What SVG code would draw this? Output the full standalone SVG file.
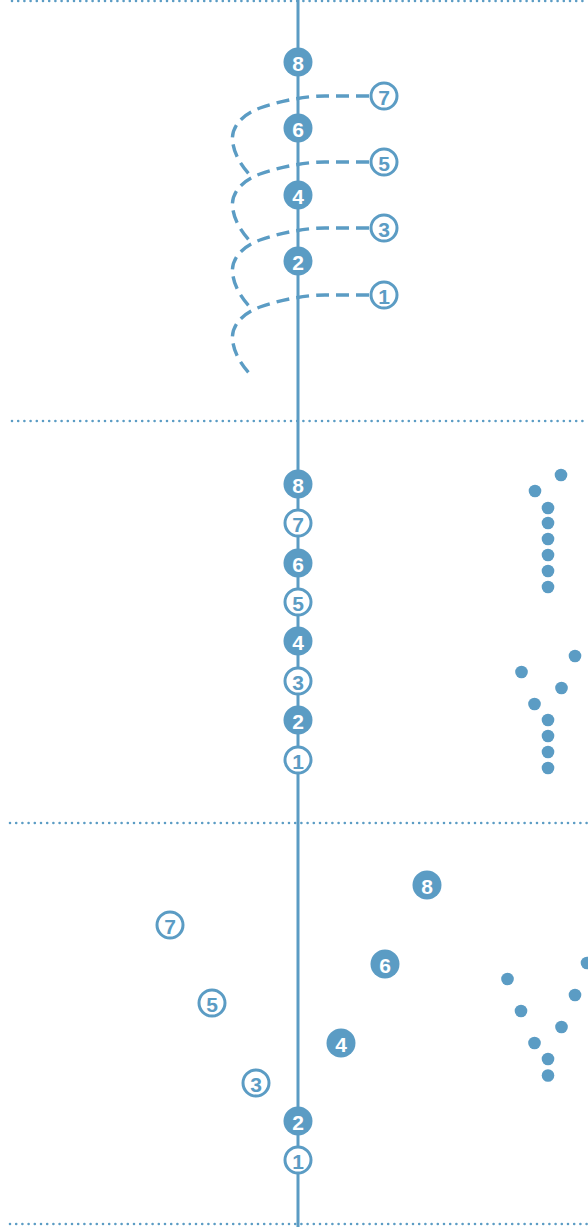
<svg xmlns="http://www.w3.org/2000/svg" width="588" height="1227" viewBox="0 0 588 1227">
<style>
.sep{stroke:#5b9cc4;stroke-width:2.6;stroke-linecap:round;stroke-dasharray:0 6.2;fill:none}
.axis{stroke:#5b9cc4;stroke-width:3;fill:none}
.helix{stroke:#5b9cc4;stroke-width:3.4;fill:none;stroke-dasharray:13 7}
.f circle{fill:#5b9cc4}
.f text{fill:#fff}
.o circle{fill:#fff;stroke:#5b9cc4;stroke-width:3}
.o text{fill:#5b9cc4}
text{font-family:"Liberation Sans",Arial,sans-serif;font-weight:bold;font-size:21px;text-anchor:middle;dominant-baseline:central}
.dot{fill:#5b9cc4}
</style>
<g id="separators">
<line class="sep" x1="12" y1="1" x2="588" y2="1"/>
<line class="sep" x1="12" y1="421" x2="588" y2="421"/>
<line class="sep" x1="10" y1="823" x2="588" y2="823"/>
<line class="sep" x1="10" y1="1224" x2="588" y2="1224"/>
</g>
<g id="connectors">
<line class="axis" x1="298" y1="0" x2="298" y2="1227"/>
<path class="helix" d="M369,96 H325 C305,96 280,101 260,108 C238,116 230,131 233,144 C235,156 243,168 251,176"/>
<path class="helix" d="M369,162 H325 C305,162 280,167 260,174 C238,182 230,197 233,210 C235,222 243,234 251,242"/>
<path class="helix" d="M369,228 H325 C305,228 280,233 260,240 C238,248 230,263 233,276 C235,288 243,300 251,308"/>
<path class="helix" d="M369,295 H325 C305,295 280,300 260,307 C238,315 230,330 233,343 C235,355 243,367 251,375"/>
</g>
<g id="top-8" class="f"><circle cx="298" cy="62" r="14.5"/><text x="298" y="63">8</text></g>
<g id="top-6" class="f"><circle cx="298" cy="128" r="14.5"/><text x="298" y="129">6</text></g>
<g id="top-4" class="f"><circle cx="298" cy="195" r="14.5"/><text x="298" y="196">4</text></g>
<g id="top-2" class="f"><circle cx="298" cy="261" r="14.5"/><text x="298" y="262">2</text></g>
<g id="top-7" class="o"><circle cx="384" cy="96" r="13"/><text x="384" y="97">7</text></g>
<g id="top-5" class="o"><circle cx="384" cy="162" r="13"/><text x="384" y="163">5</text></g>
<g id="top-3" class="o"><circle cx="384" cy="228" r="13"/><text x="384" y="229">3</text></g>
<g id="top-1" class="o"><circle cx="384" cy="295" r="13"/><text x="384" y="296">1</text></g>

<g id="mid-8" class="f"><circle cx="298" cy="484" r="14.5"/><text x="298" y="485">8</text></g>
<g id="mid-7" class="o"><circle cx="298" cy="523" r="13"/><text x="298" y="524">7</text></g>
<g id="mid-6" class="f"><circle cx="298" cy="563" r="14.5"/><text x="298" y="564">6</text></g>
<g id="mid-5" class="o"><circle cx="298" cy="602" r="13"/><text x="298" y="603">5</text></g>
<g id="mid-4" class="f"><circle cx="298" cy="641" r="14.5"/><text x="298" y="642">4</text></g>
<g id="mid-3" class="o"><circle cx="298" cy="681" r="13"/><text x="298" y="682">3</text></g>
<g id="mid-2" class="f"><circle cx="298" cy="720" r="14.5"/><text x="298" y="721">2</text></g>
<g id="mid-1" class="o"><circle cx="298" cy="760" r="13"/><text x="298" y="761">1</text></g>

<g id="bot-8" class="f"><circle cx="427" cy="885" r="14.5"/><text x="427" y="886">8</text></g>
<g id="bot-7" class="o"><circle cx="170" cy="925" r="13"/><text x="170" y="926">7</text></g>
<g id="bot-6" class="f"><circle cx="385" cy="964" r="14.5"/><text x="385" y="965">6</text></g>
<g id="bot-5" class="o"><circle cx="212" cy="1003" r="13"/><text x="212" y="1004">5</text></g>
<g id="bot-4" class="f"><circle cx="341" cy="1043" r="14.5"/><text x="341" y="1044">4</text></g>
<g id="bot-3" class="o"><circle cx="256" cy="1083" r="13"/><text x="256" y="1084">3</text></g>
<g id="bot-2" class="f"><circle cx="298" cy="1121" r="14.5"/><text x="298" y="1122">2</text></g>
<g id="bot-1" class="o"><circle cx="298" cy="1160" r="13"/><text x="298" y="1161">1</text></g>

<g id="dots-mid-a">
<circle class="dot" cx="561" cy="475" r="6.3"/>
<circle class="dot" cx="535" cy="491" r="6.3"/>
<circle class="dot" cx="548" cy="508" r="6.3"/>
<circle class="dot" cx="548" cy="523" r="6.3"/>
<circle class="dot" cx="548" cy="539" r="6.3"/>
<circle class="dot" cx="548" cy="555" r="6.3"/>
<circle class="dot" cx="548" cy="571" r="6.3"/>
<circle class="dot" cx="548" cy="587" r="6.3"/>
</g>
<g id="dots-mid-b">
<circle class="dot" cx="575" cy="656" r="6.3"/>
<circle class="dot" cx="521.5" cy="672" r="6.3"/>
<circle class="dot" cx="561.5" cy="688" r="6.3"/>
<circle class="dot" cx="534.5" cy="704" r="6.3"/>
<circle class="dot" cx="548" cy="720" r="6.3"/>
<circle class="dot" cx="548" cy="736" r="6.3"/>
<circle class="dot" cx="548" cy="752" r="6.3"/>
<circle class="dot" cx="548" cy="768" r="6.3"/>
</g>
<g id="dots-bot">
<circle class="dot" cx="587" cy="963" r="6.3"/>
<circle class="dot" cx="507.5" cy="979" r="6.3"/>
<circle class="dot" cx="575" cy="995" r="6.3"/>
<circle class="dot" cx="521" cy="1011" r="6.3"/>
<circle class="dot" cx="561.5" cy="1027" r="6.3"/>
<circle class="dot" cx="534.5" cy="1043" r="6.3"/>
<circle class="dot" cx="548" cy="1059" r="6.3"/>
<circle class="dot" cx="548" cy="1075.5" r="6.3"/>
</g>
</svg>
